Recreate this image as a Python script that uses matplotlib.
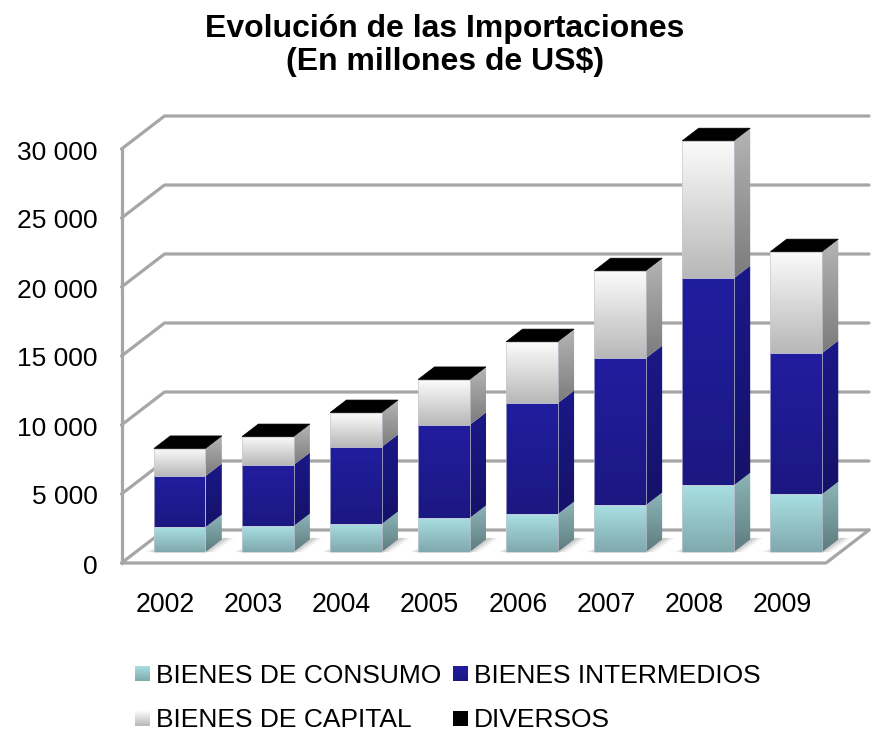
import matplotlib
matplotlib.use('Agg')
import matplotlib.pyplot as plt
import numpy as np
from matplotlib.patches import Polygon
from matplotlib.colors import LinearSegmentedColormap

plt.rcParams['font.family'] = ['Liberation Sans', 'DejaVu Sans']

# Values (millions of US$)
years = ['2002', '2003', '2004', '2005', '2006', '2007', '2008', '2009']
consumo = [1810, 1880, 2030, 2470, 2750, 3400, 4840, 4190]
intermedios = [3700, 4420, 5580, 6740, 8040, 10650, 15000, 10220]
capital = [1960, 2030, 2460, 3260, 4420, 6300, 9930, 7320]
diversos = [40, 40, 40, 40, 40, 40, 40, 40]

y_ticks = [0, 5000, 10000, 15000, 20000, 25000, 30000]
y_labels = ['0', '5 000', '10 000', '15 000', '20 000', '25 000', '30 000']
legend_names = ['BIENES DE CONSUMO', 'BIENES INTERMEDIOS', 'BIENES DE CAPITAL', 'DIVERSOS']

# (front top, front bottom, side top, side bottom)
colors = [
    ('#a8dfe2', '#80a9ad', '#8db5b8', '#5d7d80'),
    ('#211d9f', '#1b1882', '#1b1888', '#141268'),
    ('#fbfbfb', '#b8b8b8', '#b4b4b4', '#7c7c7c'),
]

W, H = 874, 731
fig = plt.figure(figsize=(W / 100, H / 100), dpi=100)

# pixel layout of the plot box
LEFT, RIGHT, Y0, Y30 = 121.5, 826, 563, 149
DEPTH_X, DEPTH_Y = 43, 33
px_x = (RIGHT - LEFT) / len(years)
px_y = (Y0 - Y30) / 30000

ax = fig.add_axes([0, 0, 1, 1])
ax.set_axis_off()
xlim = (-0.5 - LEFT / px_x, -0.5 + (W - LEFT) / px_x)
ylim = (-(H - Y0) / px_y, Y0 / px_y)
dx = DEPTH_X / px_x
dy = DEPTH_Y / px_y


def proj(x, y, d):
    return (x + d * dx, y + d * dy)


def grad_poly(pts, top, bottom, z):
    pts = np.array(pts)
    cmap = LinearSegmentedColormap.from_list('g', [top, bottom])
    im = ax.imshow(np.linspace(0, 1, 64).reshape(-1, 1), cmap=cmap, aspect='auto', zorder=z,
                   extent=(pts[:, 0].min(), pts[:, 0].max(), pts[:, 1].min(), pts[:, 1].max()))
    clip = Polygon(pts, closed=True, transform=ax.transData)
    im.set_clip_path(clip)


# walls and gridlines
wall = dict(color='#a6a6a6', lw=2.3, zorder=1, solid_capstyle='round')
xa, xb = -0.5, len(years) - 0.5
for t in y_ticks:
    p0 = proj(xa, t, 0)
    p1 = proj(xa, t, 1)
    p2 = proj(xb, t, 1)
    ax.plot([p0[0], p1[0], p2[0]], [p0[1], p1[1], p2[1]], **wall)
ax.plot([xa, xa], [0, 30000], **wall)
r = proj(xb, 0, 1)
ax.plot([xa, xb, r[0]], [0, 0, r[1]], **wall)

# bars
bar_w = 0.585
d0, d1 = 0.33, 0.71
for i in range(len(years)):
    x0, x1 = i - bar_w / 2, i + bar_w / 2
    # soft floor shadow
    for grow, alpha in [(0.10, 0.10), (0.06, 0.14), (0.03, 0.18)]:
        ax.add_patch(Polygon([proj(x0 - grow, 0, d0), proj(x1 + grow, 0, d0),
                              proj(x1 + grow + 0.02, 0, d1 + 0.05), proj(x0 + 0.05, 0, d1 + 0.05)],
                             closed=True, fc='#808080', ec='none', alpha=alpha, zorder=2))
    base = 0
    for k, vals in enumerate([consumo, intermedios, capital]):
        top = base + vals[i]
        c = colors[k]
        front = [proj(x0, base, d0), proj(x1, base, d0), proj(x1, top, d0), proj(x0, top, d0)]
        side = [proj(x1, base, d0), proj(x1, base, d1), proj(x1, top, d1), proj(x1, top, d0)]
        grad_poly(side, c[2], c[3], 3)
        grad_poly(front, c[0], c[1], 4)
        ax.add_patch(Polygon(front, closed=True, fc='none', ec='#c8c8d8', lw=0.7, alpha=0.7, zorder=5))
        base = top
    top = base + diversos[i]
    ax.add_patch(Polygon([proj(x0, top, d0), proj(x1, top, d0), proj(x1, top, d1), proj(x0, top, d1)],
                         closed=True, fc='black', ec='black', lw=0.5, zorder=6))

for t, lab in zip(y_ticks, y_labels):
    ax.text(-0.5 - 24 / px_x, t - 3.5 / px_y, lab, ha='right', va='center', fontsize=19, color='black')
for i, y in enumerate(years):
    ax.text(i, -41.5 / px_y, y, ha='center', va='center', fontsize=19.2, color='black')

ax.set_xlim(xlim)
ax.set_ylim(ylim)

# title and legend in pixel coordinates
top_ax = fig.add_axes([0, 0, 1, 1])
top_ax.set_axis_off()
top_ax.patch.set_alpha(0)
top_ax.text(445, 29, 'Evolución de las Importaciones', ha='center', va='center',
            fontsize=23, fontweight='bold', color='black')
top_ax.text(445, 62, '(En millones de US$)', ha='center', va='center',
            fontsize=23, fontweight='bold', color='black')

legend_pos = [(135, 673.5), (453, 673.5), (135, 719), (453, 719)]
legend_base = [683, 683, 727, 727]
swatch = [('#a8dfe2', '#80a9ad'), ('#211d9f', '#1b1882'), ('#fbfbfb', '#b8b8b8'), ('#000000', '#000000')]
for (lx, ly), by, name, s in zip(legend_pos, legend_base, legend_names, swatch):
    cmap = LinearSegmentedColormap.from_list('s', [s[0], s[1]])
    top_ax.imshow(np.linspace(0, 1, 32).reshape(-1, 1), cmap=cmap, aspect='auto',
                  extent=(lx, lx + 15, ly + 7.5, ly - 7.5))
    top_ax.text(lx + 21, by, name, ha='left', va='baseline', fontsize=19, color='black')
top_ax.set_xlim(0, W)
top_ax.set_ylim(H, 0)

fig.savefig('out.png', dpi=100)
